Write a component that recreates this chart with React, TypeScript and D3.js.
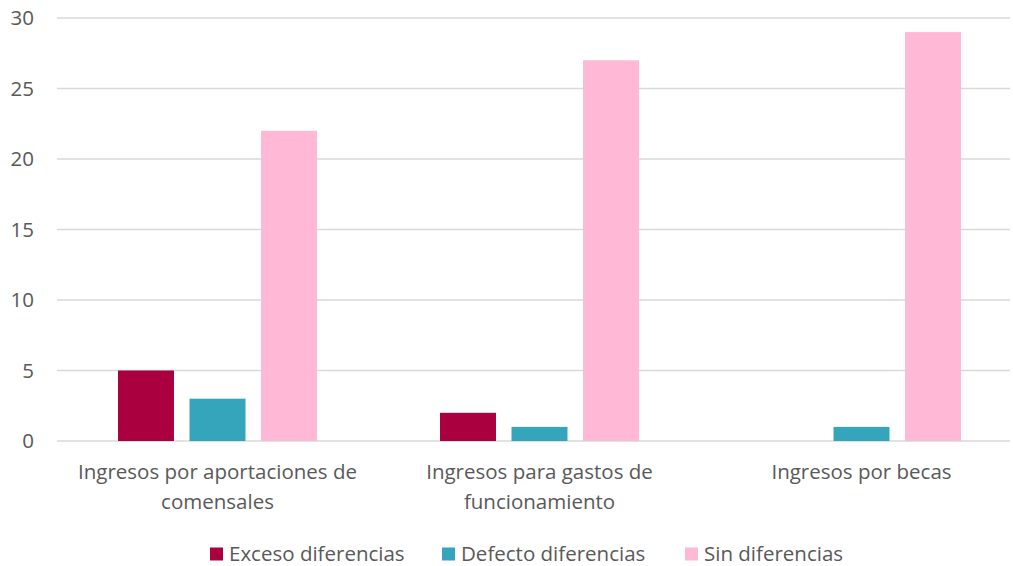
import React, { useEffect, useRef } from 'react';
import * as d3 from 'd3';

const categories = [
  ['Ingresos por aportaciones de', 'comensales'],
  ['Ingresos para gastos de', 'funcionamiento'],
  ['Ingresos por becas'],
];
const seriesNames = ['Exceso diferencias', 'Defecto diferencias', 'Sin diferencias'];
const exceso = [5, 2, 0];
const defecto = [3, 1, 1];
const sinDif = [22, 27, 29];
const yTicks = [0, 5, 10, 15, 20, 25, 30];
const colors = ['#AB0040', '#35A5BB', '#FFB8D6'];

const W = 1013;
const H = 566;
const FONT = '"Open Sans", sans-serif';
const FS = '20.5px';

const App = () => {
  const ref = useRef<SVGSVGElement>(null);

  useEffect(() => {
    const svg = d3.select(ref.current);
    svg.selectAll('*').remove();

    const values = [exceso, defecto, sinDif];
    const left = 57;
    const right = 1010;
    const y = d3.scaleLinear().domain([0, 30]).range([441, 18]);
    // category bands (Excel-like spacing)
    const x0 = d3
      .scaleBand<number>()
      .domain(categories.map((_, i) => i))
      .range([56.5, 1022.5])
      .padding(0);
    const x1 = d3
      .scaleBand<number>()
      .domain(seriesNames.map((_, i) => i))
      .range([0, x0.bandwidth()])
      .paddingInner(0.217)
      .paddingOuter(0.86);

    // gridlines
    svg
      .append('g')
      .selectAll('line')
      .data(yTicks)
      .enter()
      .append('line')
      .attr('x1', left)
      .attr('x2', right)
      .attr('y1', (d) => y(d))
      .attr('y2', (d) => y(d))
      .attr('stroke', '#d9d9d9')
      .attr('stroke-width', 1.3);

    // y labels
    svg
      .append('g')
      .selectAll('text')
      .data(yTicks)
      .enter()
      .append('text')
      .attr('x', 34)
      .attr('y', (d) => y(d))
      .attr('dy', '0.35em')
      .attr('text-anchor', 'end')
      .attr('fill', '#595959')
      .style('font-family', FONT)
      .style('font-size', FS)
      .text((d) => d);

    // bars
    const groups = svg
      .append('g')
      .selectAll('g')
      .data(categories.map((_, i) => i))
      .enter()
      .append('g')
      .attr('transform', (i) => `translate(${x0(i)},0)`);

    groups
      .selectAll('rect')
      .data((i) => values.map((s, k) => ({ k, v: s[i] })))
      .enter()
      .append('rect')
      .attr('x', (d) => x1(d.k)!)
      .attr('width', x1.bandwidth())
      .attr('y', (d) => y(d.v))
      .attr('height', (d) => y(0) - y(d.v))
      .attr('fill', (d) => colors[d.k]);

    // category labels
    groups
      .append('text')
      .attr('x', x0.bandwidth() / 2)
      .attr('y', 479)
      .attr('text-anchor', 'middle')
      .attr('fill', '#595959')
      .style('font-family', FONT)
      .style('font-size', FS)
      .selectAll('tspan')
      .data((i) => categories[i])
      .enter()
      .append('tspan')
      .attr('x', x0.bandwidth() / 2)
      .attr('dy', (_, j) => (j === 0 ? 0 : 30))
      .text((d) => d);

    // legend
    const legendX = [210, 442, 685];
    const legend = svg
      .append('g')
      .selectAll('g')
      .data(seriesNames)
      .enter()
      .append('g')
      .attr('transform', (_, i) => `translate(${legendX[i]},554)`);
    legend
      .append('rect')
      .attr('x', 0)
      .attr('y', -6.5)
      .attr('width', 13)
      .attr('height', 13)
      .attr('fill', (_, i) => colors[i]);
    legend
      .append('text')
      .attr('x', 19)
      .attr('y', 0)
      .attr('dy', '0.35em')
      .attr('fill', '#595959')
      .style('font-family', FONT)
      .style('font-size', FS)
      .text((d) => d);
  }, []);

  return (
    <svg
      ref={ref}
      width={W}
      height={H}
      style={{ position: 'absolute', left: 0, top: 0, background: '#fff' }}
    />
  );
};

export default App;
